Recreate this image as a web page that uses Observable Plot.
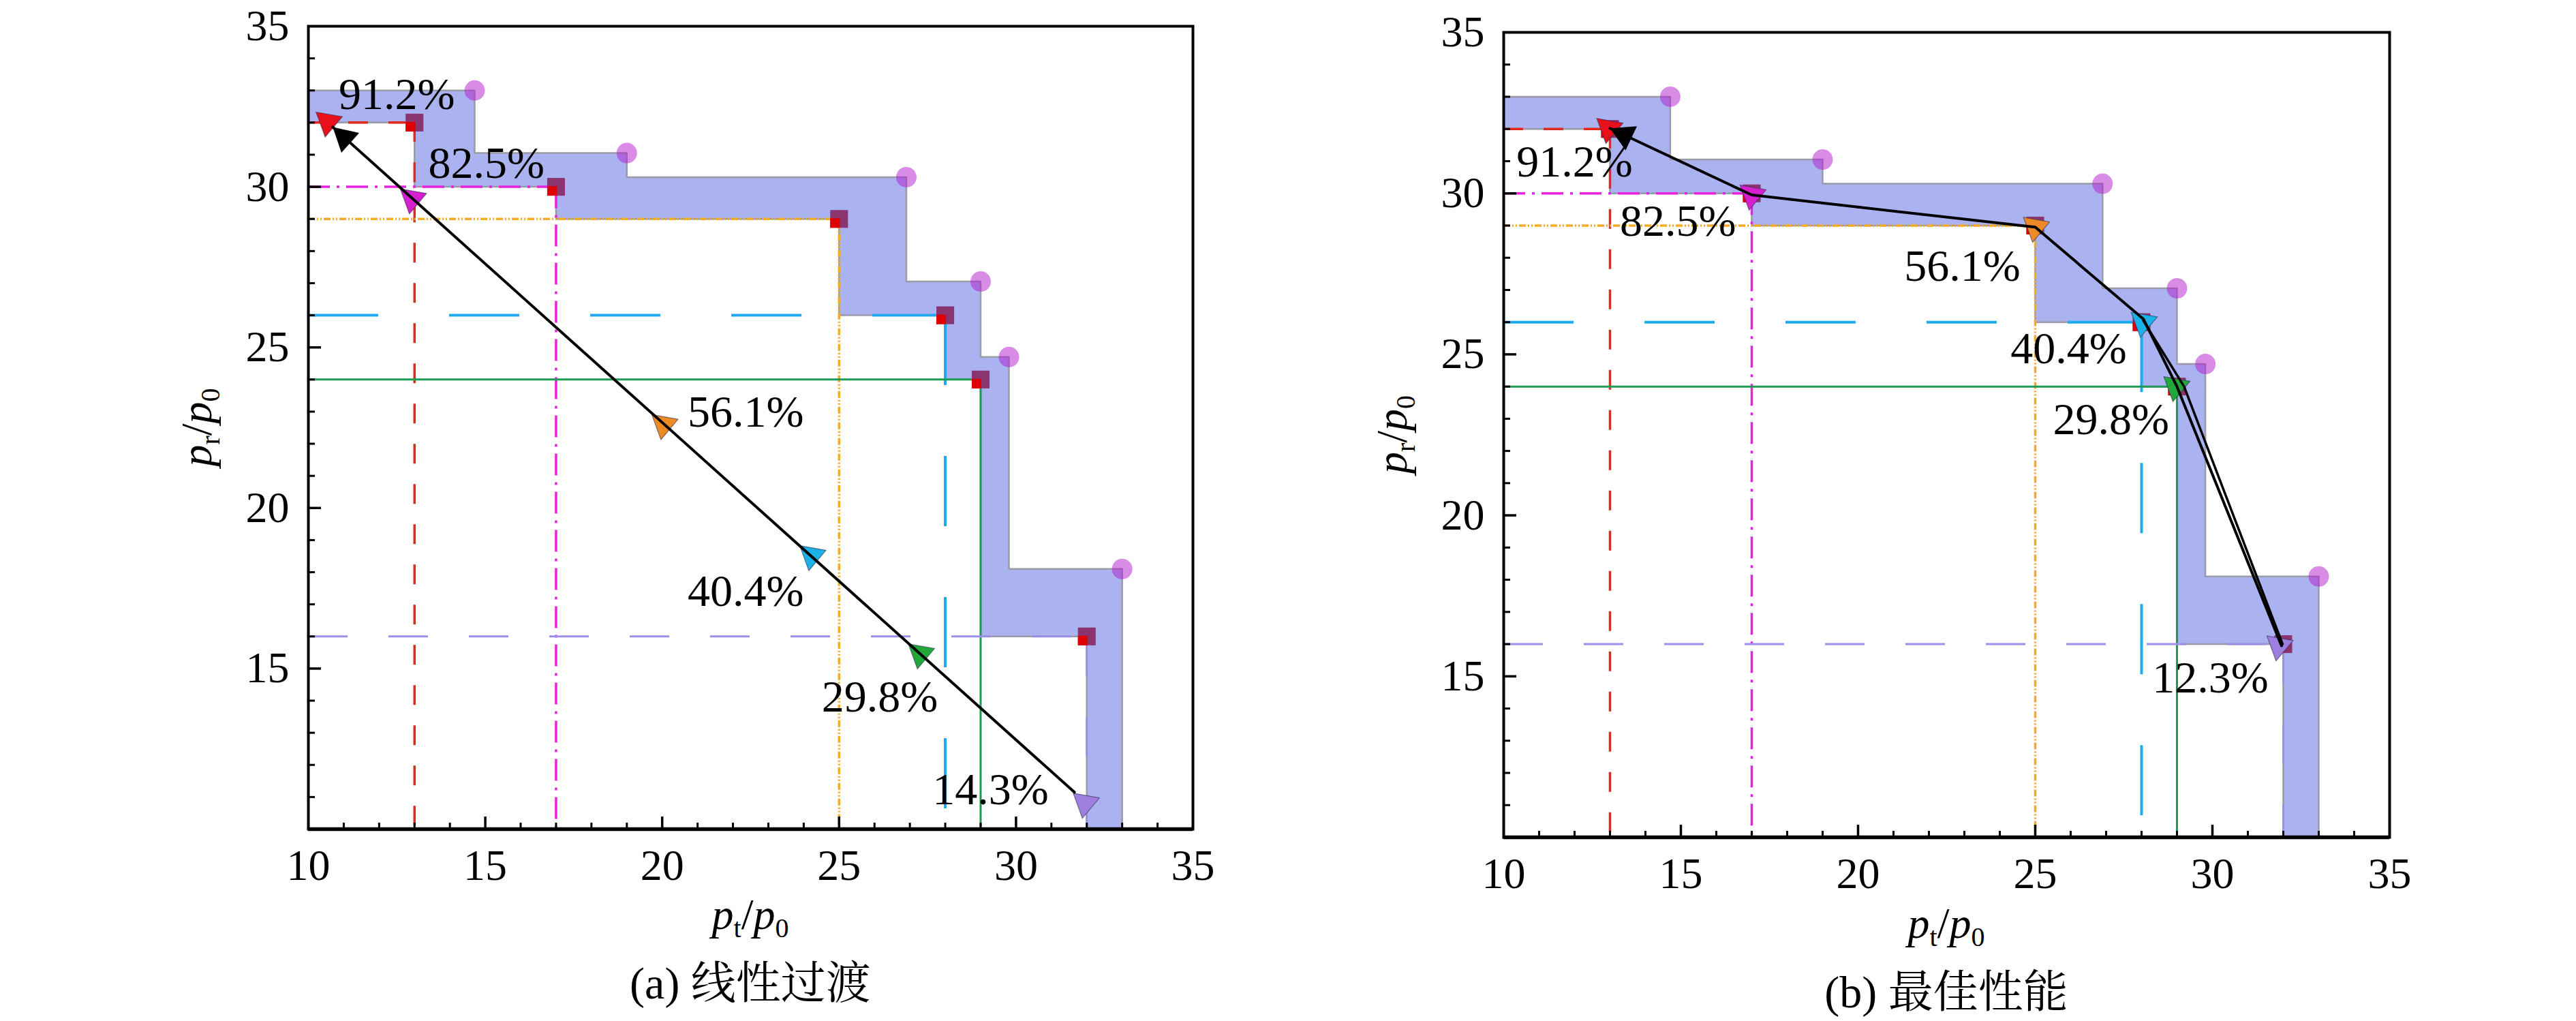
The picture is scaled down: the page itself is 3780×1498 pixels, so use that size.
<!DOCTYPE html>
<html><head><meta charset="utf-8">
<script src="https://cdn.jsdelivr.net/npm/d3@7"></script>
<script src="https://cdn.jsdelivr.net/npm/@observablehq/plot@0.6"></script>
<style>
body{margin:0;background:#fff;}
#wrap{position:relative;width:3780px;height:1498px;overflow:hidden;background:#fff;}
.panel{position:absolute;top:0;width:1890px;}
.cap{position:absolute;text-align:center;font-family:'Liberation Serif','Noto Serif CJK SC',serif;font-size:66px;line-height:66px;color:#000;white-space:nowrap;}
</style></head><body><div id="wrap"></div>
<script>
// ---------------- data ----------------
const opX = [13, 17, 25, 28, 29, 32];            // operating points (squares)
const opY = [32, 30, 29, 26, 24, 16];
const capX = [14.7, 19.0, 26.9, 29.0, 29.8, 33.0]; // upper envelope corners (circles)
const capY = [33.0, 31.05, 30.3, 27.05, 24.7, 18.1];
const seriesColor = ["#e4281c", "#e823e0", "#f4ab25", "#1eaaf0", "#1f9a55", "#9b8fe8"];
const seriesDash = ["29,30", "32,10,4,10", "10,3,2,3,2,3", "103,104", null, "58,60"];
const seriesWidth = [3.5, 3.5, 3.5, 4, 3, 3];
const triColor = ["#e8101a", "#d81fd0", "#ee8a25", "#1ab2e8", "#22a83a", "#9e7fe0"];

// (a) linear transition
const triAX = [10.55, 12.93, 20.04, 24.22, 27.29, 31.95];
const triAY = [32.02, 29.63, 22.60, 18.52, 15.46, 10.81];
const pathAX = [31.65, 10.69];
const pathAY = [11.15, 31.86];
const labA = ["91.2%", "82.5%", "56.1%", "40.4%", "29.8%", "14.3%"];
const labAX = [12.5, 15.03, 22.36, 22.36, 26.15, 29.28];
const labAY = [32.87, 30.72, 22.97, 17.40, 14.11, 11.23];

// (b) best performance
const triBX = [12.96, 17.0, 25.0, 28.04, 28.96, 31.87];
const triBY = [32.02, 29.95, 28.95, 26.0, 24.0, 15.95];
const pathBX = [31.95, 29.0, 28.05, 25.0, 17.0, 13.0];
const pathBY = [15.95, 24.0, 26.1, 28.95, 29.95, 32.02];
const pathB2X = [28.05, 29.2, 31.98];
const pathB2Y = [26.05, 24.0, 16.0];
const labB = ["91.2%", "82.5%", "56.1%", "40.4%", "29.8%", "12.3%"];
const labBX = [12.0, 14.92, 22.94, 25.94, 27.14, 29.94];
const labBY = [30.98, 29.12, 27.74, 25.16, 22.96, 14.95];

const xTicks = [10, 15, 20, 25, 30, 35];
const yTicks = [15, 20, 25, 30, 35];
const majorInner = [15, 20, 25, 30];
const minorTicks = [11,12,13,14,16,17,18,19,21,22,23,24,26,27,28,29,31,32,33,34];

// ---------------- helpers ----------------
const zip = (xs, ys, extra) => xs.map((x, i) => Object.assign({x, y: ys[i], i}, extra ? extra(i) : {}));

function regionPolygon() {
  const up = [[10, capY[0]]];
  capX.forEach((x, i) => { up.push([x, capY[i]]); up.push([x, i < capX.length - 1 ? capY[i + 1] : 10]); });
  const lo = [[10, opY[0]]];
  opX.forEach((x, i) => { lo.push([x, opY[i]]); lo.push([x, i < opX.length - 1 ? opY[i + 1] : 10]); });
  const poly = up.concat(lo.reverse());
  poly.push(poly[0]);
  return poly.map(([x, y]) => ({x, y}));
}

const arrowHead = {
  draw(ctx, size) {
    const r = Math.sqrt(size / Math.PI);
    const L = 2.3 * r, h = 1.3 * r;
    ctx.moveTo(0, 0); ctx.lineTo(-h, L); ctx.lineTo(h, L); ctx.closePath();
  }
};

const FONT = "'Liberation Serif', serif";

function panel(cfg) {
  const {width, height, mL, mR, mT, mB, tri, paths, labels, tip, from} = cfg;
  const pw = width - mL - mR, ph = height - mT - mB;
  const kx = pw / 25, ky = ph / 25;
  const ang = Math.atan2((tip.x - from.x) * kx, (tip.y - from.y) * ky) * 180 / Math.PI;
  const ops = zip(opX, opY);
  const caps = zip(capX, capY);
  const marks = [];
  marks.push(Plot.line(regionPolygon(), {x: "x", y: "y", fill: "#aab2f0", stroke: "#9a9ba6", strokeWidth: 2.5}));
  ops.forEach((p, i) => {
    marks.push(Plot.ruleY([p], {y: "y", x1: 10, x2: "x", stroke: seriesColor[i], strokeWidth: seriesWidth[i], strokeDasharray: seriesDash[i]}));
    marks.push(Plot.ruleX([p], {x: "x", y1: "y", y2: 10, stroke: seriesColor[i], strokeWidth: seriesWidth[i], strokeDasharray: seriesDash[i]}));
  });
  marks.push(Plot.dot(ops, {x: "x", y: "y", symbol: "square", r: 14.7, fill: "#882a66", fillOpacity: 0.93}));
  marks.push(Plot.dot(ops, {x: "x", y: "y", symbol: "square", r: 7.9, fill: "#e00000", dx: -6, dy: 6}));
  marks.push(Plot.dot(caps, {x: "x", y: "y", r: 15, fill: "#b119cd", fillOpacity: 0.5}));
  marks.push(Plot.dot(tri, {x: "x", y: "y", symbol: "triangle", r: 14.5, rotate: 190, fill: "c", stroke: "#303050", strokeWidth: 1.2, strokeOpacity: 0.6}));
  paths.forEach(p => marks.push(Plot.line(p.data, {x: "x", y: "y", stroke: "black", strokeWidth: p.w, strokeLinejoin: "round"})));
  marks.push(Plot.dot([tip], {x: "x", y: "y", symbol: arrowHead, r: 15, fill: "black", rotate: ang}));
  marks.push(Plot.text(labels, {x: "x", y: "y", text: "t", fontSize: 66, fill: "black", fontFamily: FONT}));
  marks.push(Plot.tickX(minorTicks, {x: d => d, insetTop: ph - 9, stroke: "black", strokeWidth: 3}));
  marks.push(Plot.tickX(majorInner, {x: d => d, insetTop: ph - 18, stroke: "black", strokeWidth: 3.5}));
  marks.push(Plot.tickY(minorTicks, {y: d => d, insetRight: pw - 10, stroke: "black", strokeWidth: 3}));
  marks.push(Plot.tickY(majorInner, {y: d => d, insetRight: pw - 19, stroke: "black", strokeWidth: 3.5}));
  marks.push(Plot.axisX({ticks: xTicks, tickSize: 0, tickPadding: 29, fontSize: 64, label: null, fontFamily: FONT}));
  marks.push(Plot.axisY({ticks: yTicks, tickSize: 0, tickPadding: 28, fontSize: 64, label: null, fontFamily: FONT}));
  marks.push(Plot.frame({stroke: "black", strokeWidth: 4}));
  marks.push(Plot.ruleY([10], {stroke: "black", strokeWidth: 5.5}));

  const svg = Plot.plot({
    width, height, marginLeft: mL, marginRight: mR, marginTop: mT, marginBottom: mB,
    x: {domain: [10, 35]}, y: {domain: [10, 35]},
    color: {type: "identity"},
    style: {fontFamily: FONT, fontSize: "64px", background: "white", overflow: "visible", color: "black"},
    marks
  });

  // axis titles with subscripts
  const s = d3.select(svg);
  const fs = 64, sub = 40, sh = 12;
  function title(sel, subTxt) {
    sel.append("tspan").attr("font-style", "italic").text("p");
    sel.append("tspan").attr("font-size", sub).attr("dy", sh).text(subTxt);
    sel.append("tspan").attr("dy", -sh).text("/");
    sel.append("tspan").attr("font-style", "italic").text("p");
    sel.append("tspan").attr("font-size", sub).attr("dy", sh).text("0");
  }
  const tx = s.append("text").attr("x", mL + pw / 2).attr("y", cfg.xTitleY)
    .attr("text-anchor", "middle").attr("font-size", fs).attr("fill", "black");
  title(tx, "t");
  const ty = s.append("text").attr("transform", `translate(${mL - 142},${mT + ph / 2}) rotate(-90)`)
    .attr("text-anchor", "middle").attr("font-size", fs).attr("fill", "black");
  title(ty, "r");
  s.selectAll("text").attr("font-family", "Liberation Serif").style("font-family", FONT);
  return svg;
}

const wrap = document.getElementById("wrap");

function addPanel(left, cfg, caption, capTop) {
  const div = document.createElement("div");
  div.className = "panel";
  div.style.left = left + "px";
  div.appendChild(panel(cfg));
  wrap.appendChild(div);
  const c = document.createElement("div");
  c.className = "cap";
  c.style.left = (left + cfg.mL) + "px";
  c.style.width = (cfg.width - cfg.mL - cfg.mR) + "px";
  c.style.top = capTop + "px";
  c.textContent = caption;
  wrap.appendChild(c);
}

const triA = zip(triAX, triAY, i => ({c: triColor[i]}));
const triB = zip(triBX, triBY, i => ({c: triColor[i]}));
const pathA = zip(pathAX, pathAY);
const pathB = zip(pathBX, pathBY);
const pathB2 = zip(pathB2X, pathB2Y);
const labelsA = zip(labAX, labAY, i => ({t: labA[i]}));
const labelsB = zip(labBX, labBY, i => ({t: labB[i]}));

addPanel(0, {
  width: 1890, height: 1400, mL: 452, mR: 140, mT: 38, mB: 184,
  tri: triA, paths: [{data: pathA, w: 4}], labels: labelsA,
  tip: pathA[pathA.length - 1], from: pathA[0], xTitleY: 1363
}, "(a) 线性过渡", 1410);

addPanel(1890, {
  width: 1890, height: 1412, mL: 316, mR: 274, mT: 47, mB: 184,
  tri: triB, paths: [{data: pathB, w: 4}, {data: pathB2, w: 3.5}], labels: labelsB,
  tip: pathB[pathB.length - 1], from: pathB[pathB.length - 2], xTitleY: 1376
}, "(b) 最佳性能", 1423);
</script></body></html>
